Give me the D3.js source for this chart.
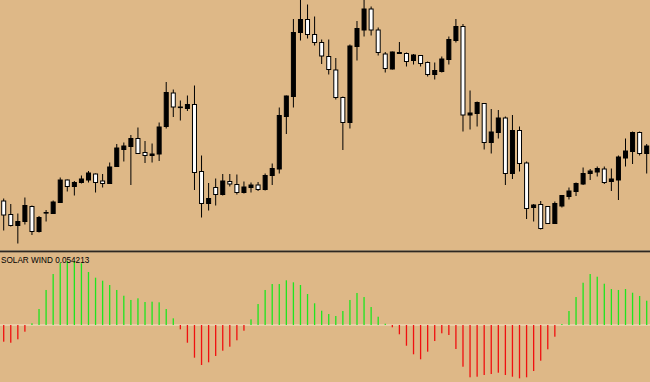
<!DOCTYPE html>
<html><head><meta charset="utf-8">
<script src="https://cdn.jsdelivr.net/npm/d3@7/dist/d3.min.js"></script>
<style>html,body{margin:0;padding:0;background:#deb887;overflow:hidden}svg{display:block}</style>
</head><body><svg id="c" width="650" height="382"></svg>
<script>
const open = [1.3098,1.3071,1.3049,1.3057,1.3087,1.3037,1.3074,1.3073,1.3095,1.3140,
1.3127,1.3135,1.3140,1.3152,1.3138,1.3133,1.3167,1.3201,1.3207,1.3223,
1.3195,1.3189,1.3192,1.3247,1.3314,1.3285,1.3283,1.3291,1.3157,1.3093,
1.3125,1.3111,1.3137,1.3131,1.3115,1.3125,1.3130,1.3121,1.3149,1.3162,
1.3267,1.3307,1.3435,1.3461,1.3431,1.3415,1.3387,1.3360,1.3305,1.3255,
1.3407,1.3440,1.3482,1.3440,1.3392,1.3362,1.3393,1.3393,1.3379,1.3389,
1.3375,1.3351,1.3357,1.3381,1.3419,1.3447,1.3270,1.3273,1.3293,1.3215,
1.3235,1.3264,1.3153,1.3239,1.3174,1.3085,1.3091,1.3087,1.3053,1.3088,
1.3107,1.3117,1.3132,1.3153,1.3156,1.3162,1.3137,1.3140,1.3184,1.3197,
1.3235,1.3193];
const high = [1.3103,1.3092,1.3073,1.3105,1.3089,1.3068,1.3080,1.3099,1.3145,1.3141,
1.3138,1.3149,1.3158,1.3153,1.3152,1.3175,1.3212,1.3215,1.3230,1.3245,
1.3218,1.3213,1.3255,1.3336,1.3321,1.3299,1.3309,1.3329,1.3189,1.3134,
1.3143,1.3152,1.3152,1.3151,1.3137,1.3135,1.3136,1.3153,1.3173,1.3285,
1.3309,1.3462,1.3503,1.3491,1.3467,1.3421,1.3421,1.3384,1.3307,1.3411,
1.3458,1.3503,1.3487,1.3445,1.3396,1.3397,1.3416,1.3395,1.3392,1.3390,
1.3377,1.3375,1.3387,1.3427,1.3462,1.3452,1.3319,1.3297,1.3294,1.3282,
1.3280,1.3267,1.3270,1.3247,1.3177,1.3092,1.3098,1.3088,1.3097,1.3110,
1.3125,1.3135,1.3165,1.3162,1.3167,1.3167,1.3163,1.3189,1.3223,1.3237,
1.3237,1.3212];
const low = [1.3039,1.3047,1.3013,1.3051,1.3030,1.3035,1.3057,1.3072,1.3094,1.3117,
1.3109,1.3133,1.3135,1.3115,1.3125,1.3132,1.3166,1.3177,1.3130,1.3192,
1.3174,1.3175,1.3178,1.3243,1.3266,1.3259,1.3278,1.3120,1.3065,1.3079,
1.3089,1.3109,1.3127,1.3111,1.3113,1.3115,1.3118,1.3119,1.3130,1.3153,
1.3232,1.3285,1.3419,1.3423,1.3409,1.3372,1.3351,1.3301,1.3200,1.3243,
1.3379,1.3427,1.3429,1.3389,1.3355,1.3361,1.3392,1.3367,1.3371,1.3367,
1.3347,1.3341,1.3355,1.3371,1.3415,1.3237,1.3241,1.3247,1.3201,1.3193,
1.3223,1.3130,1.3142,1.3157,1.3062,1.3057,1.3041,1.3052,1.3052,1.3085,
1.3101,1.3108,1.3130,1.3140,1.3147,1.3132,1.3118,1.3100,1.3167,1.3172,
1.3189,1.3153];
const close = [1.3070,1.3049,1.3057,1.3089,1.3037,1.3065,1.3075,1.3096,1.3140,1.3127,
1.3135,1.3142,1.3154,1.3135,1.3133,1.3166,1.3204,1.3208,1.3223,1.3193,
1.3189,1.3192,1.3246,1.3315,1.3286,1.3286,1.3291,1.3155,1.3093,1.3103,
1.3111,1.3138,1.3132,1.3115,1.3126,1.3130,1.3121,1.3149,1.3163,1.3269,
1.3308,1.3435,1.3461,1.3431,1.3415,1.3388,1.3361,1.3305,1.3255,1.3408,
1.3443,1.3482,1.3440,1.3395,1.3363,1.3396,1.3395,1.3377,1.3390,1.3373,
1.3351,1.3359,1.3382,1.3421,1.3447,1.3270,1.3274,1.3295,1.3215,1.3236,
1.3264,1.3153,1.3239,1.3173,1.3083,1.3090,1.3043,1.3053,1.3093,1.3109,
1.3118,1.3133,1.3153,1.3158,1.3163,1.3135,1.3142,1.3186,1.3198,1.3235,
1.3193,1.3208];
const solarWind = [-0.0372,-0.0395,-0.0319,-0.0149,0.0038,0.0357,0.0781,0.1137,0.1383,0.1427,
0.1427,0.1376,0.1182,0.1055,0.0988,0.0892,0.0781,0.0653,0.0558,0.0595,
0.0513,0.0520,0.0506,0.0357,0.0149,-0.0096,-0.0395,-0.0729,-0.0892,-0.0832,
-0.0691,-0.0573,-0.0484,-0.0341,-0.0127,0.0127,0.0468,0.0781,0.0914,0.0914,
0.0997,0.0952,0.0892,0.0691,0.0484,0.0319,0.0245,0.0201,0.0312,0.0558,
0.0714,0.0624,0.0401,0.0185,0.0029,-0.0051,-0.0207,-0.0462,-0.0653,-0.0765,
-0.0595,-0.0357,-0.0185,-0.0223,-0.0535,-0.0930,-0.1166,-0.1153,-0.1115,-0.1093,
-0.1064,-0.1115,-0.1153,-0.1189,-0.1166,-0.1026,-0.0796,-0.0542,-0.0261,0.0022,
0.0312,0.0624,0.0943,0.1137,0.1077,0.0921,0.0803,0.0781,0.0803,0.0720,
0.0647,0.0542];
const indicatorName = "SOLAR WIND";
const indicatorValue = "0.054213";

const W = 650, H = 382;
const svg = d3.select("#c");
const idx = d3.range(open.length);
const x = d3.scalePoint().domain(idx).range([3.7, 646.7]);
const y = d3.scaleLinear().domain([1.3004, 1.35]).range([248, 0]);
const yi = d3.scaleLinear().domain([-0.1271, 0.1628]).range([382, 252]);

svg.append("rect").attr("width", W).attr("height", H).attr("fill", "#deb887");

svg.append("defs").append("clipPath").attr("id", "pc")
  .append("rect").attr("x", 0).attr("y", 0).attr("width", W).attr("height", 249);

const pg = svg.append("g").attr("clip-path", "url(#pc)");
// wicks
pg.selectAll("line.w").data(idx).join("line").attr("class", "w")
  .attr("x1", i => x(i)).attr("x2", i => x(i))
  .attr("y1", i => y(high[i])).attr("y2", i => y(low[i]))
  .attr("stroke", "#000").attr("stroke-width", 1);
// bodies
pg.selectAll("rect.b").data(idx).join("rect").attr("class", "b")
  .attr("x", i => x(i) - 2)
  .attr("width", 4)
  .attr("y", i => y(Math.max(open[i], close[i])))
  .attr("height", i => Math.max(0.6, Math.abs(y(open[i]) - y(close[i]))))
  .attr("fill", i => close[i] >= open[i] ? "#000" : "#fff")
  .attr("stroke", "#000").attr("stroke-width", 1);

// separator
svg.append("rect").attr("x", 0).attr("y", 250).attr("width", W).attr("height", 1).attr("fill", "#8a7a62");
svg.append("rect").attr("x", 0).attr("y", 251).attr("width", W).attr("height", 1).attr("fill", "#2e2821");
svg.append("rect").attr("x", 0).attr("y", 252).attr("width", W).attr("height", 1).attr("fill", "#a08868");

// zero line
svg.append("line").attr("x1", 0).attr("x2", W)
  .attr("y1", yi(0)).attr("y2", yi(0))
  .attr("stroke", "#f6e4c8").attr("stroke-width", 1.2);

// indicator bars
svg.selectAll("rect.s").data(idx).join("rect").attr("class", "s")
  .attr("x", i => x(i) - 0.65)
  .attr("width", 1.3)
  .attr("y", i => Math.min(yi(0), yi(solarWind[i])))
  .attr("height", i => Math.abs(yi(solarWind[i]) - yi(0)))
  .attr("fill", i => solarWind[i] >= 0 ? "#1ee61e" : "#f01010");

// label
svg.append("text").attr("x", 1).attr("y", 263)
  .attr("font-family", "'Liberation Sans', Arial, sans-serif")
  .attr("font-size", "8.2px").attr("fill", "#000")
  .text(indicatorName + " " + indicatorValue);
</script>
</body></html>
